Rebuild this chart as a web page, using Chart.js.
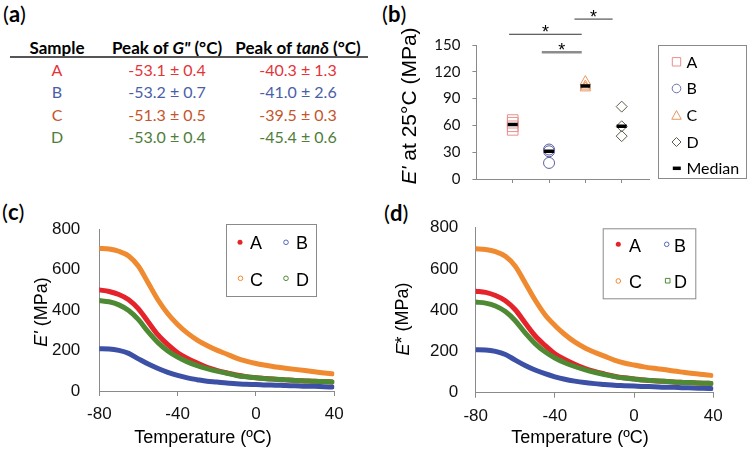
<!DOCTYPE html>
<html>
<head>
<meta charset="utf-8">
<script src="https://cdn.jsdelivr.net/npm/chart.js@4.4.1/dist/chart.umd.min.js"></script>
<style>
  body { margin: 0; background: #fff; width: 750px; height: 453px; position: relative; overflow: hidden; }
  canvas { position: absolute; }
  .lbl { position: absolute; font-family: Lato, sans-serif; font-size: 22px; color: #000; line-height: 1; }
  .cell { position: absolute; transform: translate(-50%, -50%); white-space: nowrap; font-family: Lato, sans-serif; font-size: 16px; }
  .head { font-weight: bold; font-size: 17px; color: #000; }
  #rule { position: absolute; left: 10px; top: 56px; width: 358px; border-top: 2px solid #555; }
</style>
</head>
<body>
<div class="lbl" style="left:3px;top:3px">(<b>a</b>)</div>
<div class="lbl" style="left:382px;top:3px">(<b>b</b>)</div>
<div class="lbl" style="left:2px;top:201px">(<b>c</b>)</div>
<div class="lbl" style="left:384px;top:202px">(<b>d</b>)</div>
<div id="tbl"></div>
<div id="rule"></div>
<canvas id="cb" width="370" height="200" style="left:380px;top:0px"></canvas>
<canvas id="cc" width="380" height="253" style="left:0px;top:200px"></canvas>
<canvas id="cd" width="370" height="253" style="left:380px;top:200px"></canvas>
<script>
// ---- (a) table
const samples = ['A', 'B', 'C', 'D'];
const peakG = [-53.1, -53.2, -51.3, -53.0];
const peakGErr = [0.4, 0.7, 0.5, 0.4];
const peakTan = [-40.3, -41.0, -39.5, -45.4];
const peakTanErr = [1.3, 2.6, 0.3, 0.6];

// ---- (b) E' at 25C
const ptsA = [55, 59, 63, 66];
const ptsB = [18, 31, 33];
const ptsC = [102, 104, 109];
const ptsD = [48, 59, 81];
const medians = [61, 31, 104, 59];
// significance bars: [from x, to x, height]
const sigBars = [[0.9, 2.9, 162], [1.8, 2.9, 142], [2.7, 3.75, 179]];

// ---- (c) E' vs temperature
const temps = [-80, -75, -70, -65, -60, -55, -50, -45, -40, -35, -30, -25, -20, -15, -10, -5, 0, 5, 10, 15, 20, 25, 30, 35, 39];
const eA = [500, 492, 477, 451, 406, 341, 277, 229, 189, 161, 138, 117, 102, 90, 79, 71, 66, 62, 58, 55, 52, 50, 48, 47, 45];
const eB = [209, 208, 201, 186, 159, 133, 111, 92, 77, 65, 56, 48, 44, 39, 36, 33, 32, 30, 29, 27, 26, 24, 23, 21, 20];
const eC = [705, 702, 691, 668, 617, 534, 450, 382, 329, 286, 252, 225, 202, 183, 163, 148, 136, 127, 119, 113, 107, 101, 95, 89, 85];
const eD = [447, 441, 426, 398, 353, 292, 239, 198, 168, 144, 126, 111, 98, 88, 77, 70, 65, 61, 58, 55, 52, 50, 48, 47, 45];

// ---- (d) E* vs temperature
const sA = [492, 486, 471, 446, 402, 338, 276, 229, 189, 161, 138, 118, 103, 91, 80, 72, 67, 62, 58, 55, 52, 50, 48, 46, 45];
const sB = [208, 207, 200, 185, 158, 132, 110, 92, 77, 65, 56, 49, 44, 40, 36, 34, 32, 30, 29, 27, 26, 24, 23, 21, 20];
const sC = [697, 694, 684, 661, 613, 532, 449, 378, 326, 282, 246, 218, 196, 177, 158, 144, 134, 125, 118, 112, 105, 99, 93, 88, 84];
const sD = [439, 434, 420, 393, 349, 290, 238, 198, 168, 145, 127, 112, 99, 88, 78, 71, 66, 61, 58, 55, 52, 50, 48, 46, 45];

const RED = '#e4232a', BLUE = '#3c50a5', ORANGE = '#f08a30', GREEN = '#4e8a34';
const FONT = '"Liberation Sans", Arial, sans-serif';

// table
const tblColors = ['#e3343a', '#4a5ea8', '#c4562c', '#4f7d3a'];
const tbl = document.getElementById('tbl');
function cell(html, x, y, cls, color) {
  const d = document.createElement('div');
  d.className = 'cell ' + (cls || '');
  d.style.left = x + 'px';
  d.style.top = y + 'px';
  if (color) d.style.color = color;
  d.innerHTML = html;
  tbl.appendChild(d);
}
cell('Sample', 57, 47, 'head');
cell('Peak of <i>G"</i> (°C)', 167, 47, 'head');
cell('Peak of <i>tanδ</i> (°C)', 298, 47, 'head');
samples.forEach((s, i) => {
  const y = 69 + i * 22.4;
  cell(s, 57, y, '', tblColors[i]);
  cell(peakG[i].toFixed(1) + ' ± ' + peakGErr[i].toFixed(1), 167, y, '', tblColors[i]);
  cell(peakTan[i].toFixed(1) + ' ± ' + peakTanErr[i].toFixed(1), 298, y, '', tblColors[i]);
});

function drawParts(ctx, parts, x, y, size, rotate) {
  ctx.save();
  ctx.translate(x, y);
  if (rotate) ctx.rotate(-Math.PI / 2);
  const fonts = parts.map(p => (p.i ? 'italic ' : '') + size + 'px ' + FONT);
  const widths = parts.map((p, k) => { ctx.font = fonts[k]; return ctx.measureText(p.t).width; });
  let cx = -widths.reduce((a, b) => a + b, 0) / 2;
  ctx.textBaseline = 'middle';
  ctx.textAlign = 'left';
  ctx.fillStyle = '#000';
  parts.forEach((p, k) => { ctx.font = fonts[k]; ctx.fillText(p.t, cx, 0); cx += widths[k]; });
  ctx.restore();
}

function marker(ctx, shape, x, y, r, color) {
  ctx.save();
  ctx.strokeStyle = color;
  ctx.fillStyle = color;
  ctx.lineWidth = 1;
  ctx.beginPath();
  if (shape === 'dot' || shape === 'circle') ctx.arc(x, y, r, 0, Math.PI * 2);
  else if (shape === 'square') ctx.rect(x - r, y - r, 2 * r, 2 * r);
  else if (shape === 'triangle') { ctx.moveTo(x, y - r); ctx.lineTo(x + r * 0.95, y + r * 0.75); ctx.lineTo(x - r * 0.95, y + r * 0.75); ctx.closePath(); }
  else if (shape === 'diamond') { ctx.moveTo(x, y - r); ctx.lineTo(x + r, y); ctx.lineTo(x, y + r); ctx.lineTo(x - r, y); ctx.closePath(); }
  else if (shape === 'dash') { ctx.lineWidth = 3.5; ctx.strokeStyle = '#000'; ctx.moveTo(x - r, y); ctx.lineTo(x + r, y); }
  if (shape === 'dot') ctx.fill(); else ctx.stroke();
  ctx.restore();
}

function makeExtras(cfg) {
  return {
    id: 'extras',
    afterDraw(chart) {
      const ctx = chart.ctx;
      if (cfg.yTitle) drawParts(ctx, cfg.yTitle.parts, cfg.yTitle.x, cfg.yTitle.y, cfg.yTitle.size, true);
      if (cfg.xTitle) drawParts(ctx, cfg.xTitle.parts, cfg.xTitle.x, cfg.xTitle.y, cfg.xTitle.size, false);
      if (cfg.legend) {
        const L = cfg.legend;
        ctx.save();
        ctx.strokeStyle = '#8a8a8a';
        ctx.lineWidth = 1;
        ctx.strokeRect(L.box[0] + 0.5, L.box[1] + 0.5, L.box[2], L.box[3]);
        ctx.font = L.font;
        ctx.fillStyle = '#000';
        ctx.textBaseline = 'middle';
        L.items.forEach(it => {
          marker(ctx, it.shape, it.x, it.y, it.r, it.color);
          ctx.fillText(it.label, it.tx, it.ty);
        });
        ctx.restore();
      }
      if (cfg.sig) {
        const xs = chart.scales.x, ys = chart.scales.y;
        ctx.save();
        cfg.sig.forEach((b, k) => {
          const x1 = xs.getPixelForValue(b[0]), x2 = xs.getPixelForValue(b[1]), y = ys.getPixelForValue(b[2]);
          ctx.beginPath();
          ctx.strokeStyle = k === 1 ? '#8c8c8c' : '#333';
          ctx.lineWidth = k === 1 ? 2.5 : 1;
          ctx.moveTo(x1, y);
          ctx.lineTo(x2, y);
          ctx.stroke();
          ctx.font = '18px ' + FONT;
          ctx.fillStyle = '#000';
          ctx.textAlign = 'center';
          ctx.textBaseline = 'alphabetic';
          ctx.fillText('*', (x1 + x2) / 2, y + 4);
        });
        ctx.restore();
      }
    }
  };
}

const axisBorder = { color: '#8a8a8a', width: 1 };

// ---- (b)
function pts(arr, x) { return arr.map(v => ({ x: x, y: v })); }
new Chart(document.getElementById('cb'), {
  type: 'scatter',
  data: {
    datasets: [
      { data: medians.map((v, i) => ({ x: i + 1, y: v })), pointStyle: 'line', pointRadius: 5, borderWidth: 3.5, borderColor: '#000', backgroundColor: '#000' },
      { data: pts(ptsA, 1), pointStyle: 'rect', pointRadius: 7.5, borderWidth: 1, borderColor: '#e8908c', backgroundColor: 'rgba(0,0,0,0)' },
      { data: pts(ptsB, 2), pointStyle: 'circle', pointRadius: 5.5, borderWidth: 1, borderColor: '#5a5fa0', backgroundColor: 'rgba(0,0,0,0)' },
      { data: pts(ptsC, 3), pointStyle: 'triangle', pointRadius: 6, borderWidth: 1, borderColor: '#e8955e', backgroundColor: 'rgba(0,0,0,0)' },
      { data: pts(ptsD, 4), pointStyle: 'rectRot', pointRadius: 5.5, borderWidth: 1, borderColor: '#5c5c48', backgroundColor: 'rgba(0,0,0,0)' }
    ]
  },
  options: {
    responsive: false,
    animation: false,
    events: [],
    layout: { padding: { top: 45, right: 100.7, left: 0, bottom: 0 } },
    plugins: { legend: { display: false }, tooltip: { enabled: false } },
    scales: {
      x: {
        type: 'linear', min: 0, max: 4.76,
        afterBuildTicks: s => { s.ticks = samples.map((g, i) => ({ value: i + 1 })); },
        ticks: { display: false },
        grid: { drawOnChartArea: false, tickLength: 4, color: '#8a8a8a' }, border: axisBorder,
        afterFit: s => { s.height = 18.3; }
      },
      y: {
        min: 0, max: 150,
        ticks: { stepSize: 30, color: '#111', padding: 12, font: { size: 15, family: 'Lato' } },
        grid: { drawOnChartArea: false, tickLength: 4, color: '#8a8a8a' }, border: axisBorder,
        afterFit: s => { s.width = 96.4; }
      }
    }
  },
  plugins: [makeExtras({
    yTitle: { parts: [{ t: 'E\'', i: true }, { t: ' at 25°C (MPa)' }], x: 30, y: 106, size: 21 },
    sig: sigBars,
    legend: {
      box: [278, 45, 88, 133], font: '16px Lato',
      items: [
        { shape: 'square', r: 4.2, color: '#e8908c', x: 296.5, y: 61.8, label: 'A', tx: 306.5, ty: 62.5 },
        { shape: 'circle', r: 4.3, color: '#6a70b0', x: 296.5, y: 88.5, label: 'B', tx: 306.5, ty: 89 },
        { shape: 'triangle', r: 5, color: '#e8955e', x: 296.5, y: 115.5, label: 'C', tx: 306.5, ty: 116 },
        { shape: 'diamond', r: 4.5, color: '#5c5c48', x: 296.5, y: 142, label: 'D', tx: 306.5, ty: 142.5 },
        { shape: 'dash', r: 4, color: '#000', x: 296.8, y: 168.3, label: 'Median', tx: 306.5, ty: 169 }
      ]
    }
  })]
});

// ---- (c) and (d)
function curve(vals, color, order) {
  return {
    data: temps.map((t, i) => ({ x: t, y: vals[i] })),
    borderColor: color, backgroundColor: color, borderWidth: 5,
    pointRadius: 0, cubicInterpolationMode: 'monotone', borderCapStyle: 'round',
    fill: false, order: order
  };
}
function tempChart(id, series, area, extras) {
  return new Chart(document.getElementById(id), {
    type: 'line',
    data: { datasets: [curve(series[0], RED, 2), curve(series[1], BLUE, 3), curve(series[2], ORANGE, 4), curve(series[3], GREEN, 1)] },
    options: {
      responsive: false,
      animation: false,
      events: [],
      layout: { padding: { top: area.top, right: area.right, left: 0, bottom: 0 } },
      plugins: { legend: { display: false }, tooltip: { enabled: false } },
      scales: {
        x: {
          type: 'linear', min: -80, max: 40,
          ticks: { stepSize: 40, color: '#111', padding: 8, maxRotation: 0, font: { size: 17, family: FONT } },
          grid: { drawOnChartArea: false, tickLength: 5, color: '#8a8a8a' }, border: axisBorder,
          afterFit: s => { s.height = area.xh; }
        },
        y: {
          min: 0, max: 800,
          ticks: { stepSize: 200, color: '#111', padding: area.yPad, font: { size: 17, family: FONT } },
          grid: { drawOnChartArea: false, drawTicks: false }, border: axisBorder,
          afterFit: s => { s.width = area.left; }
        }
      }
    },
    plugins: [makeExtras(extras)]
  });
}

tempChart('cc', [eA, eB, eC, eD], { top: 15, right: 45.7, left: 99.3, xh: 62, yPad: 19 }, {
  yTitle: { parts: [{ t: 'E\'', i: true }, { t: ' (MPa)' }], x: 42, y: 112, size: 18 },
  xTitle: { parts: [{ t: 'Temperature (ºC)' }], x: 203, y: 238, size: 18 },
  legend: {
    box: [226, 24, 90, 72], font: '18px ' + FONT,
    items: [
      { shape: 'dot', r: 2.5, color: RED, x: 240, y: 42.3, label: 'A', tx: 250, ty: 44.2 },
      { shape: 'circle', r: 2.3, color: '#5566bb', x: 286, y: 42.3, label: 'B', tx: 296, ty: 44.2 },
      { shape: 'circle', r: 2.3, color: ORANGE, x: 240.5, y: 78.3, label: 'C', tx: 250, ty: 81 },
      { shape: 'circle', r: 2.3, color: GREEN, x: 286, y: 78.3, label: 'D', tx: 296, ty: 81 }
    ]
  }
});

tempChart('cd', [sA, sB, sC, sD], { top: 15.7, right: 36.7, left: 95.7, xh: 60.3, yPad: 17.4 }, {
  yTitle: { parts: [{ t: 'E', i: true }, { t: '* (MPa)' }], x: 23.5, y: 119, size: 18 },
  xTitle: { parts: [{ t: 'Temperature (ºC)' }], x: 200, y: 238.3, size: 18 },
  legend: {
    box: [222.7, 28.3, 92.6, 70], font: '18px ' + FONT,
    items: [
      { shape: 'dot', r: 2.5, color: RED, x: 238.3, y: 44.3, label: 'A', tx: 249, ty: 47.5 },
      { shape: 'circle', r: 2.3, color: '#5566bb', x: 286.7, y: 44.3, label: 'B', tx: 294, ty: 47.5 },
      { shape: 'circle', r: 2.3, color: ORANGE, x: 238.3, y: 81, label: 'C', tx: 249, ty: 83.3 },
      { shape: 'square', r: 2.3, color: GREEN, x: 287.7, y: 80.7, label: 'D', tx: 294, ty: 83.3 }
    ]
  }
});
</script>
</body>
</html>
